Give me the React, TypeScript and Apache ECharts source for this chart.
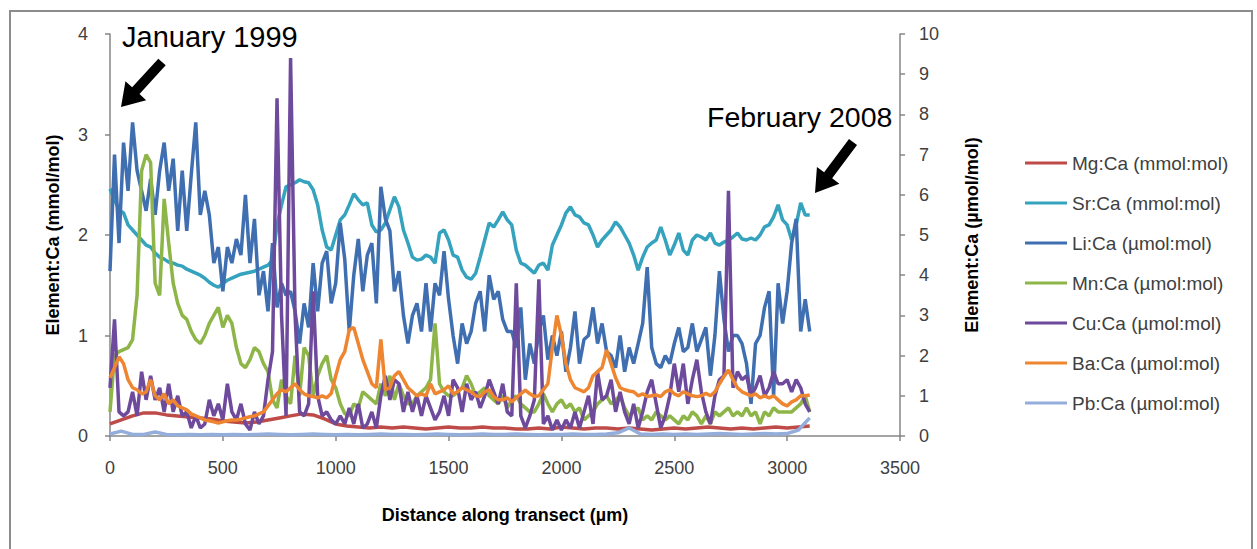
import React, { useEffect, useRef } from "react";
import * as echarts from "echarts";

const FONT = "'Liberation Sans', Arial, sans-serif";

// Distance sampling (µm)
const distFine = Array.from({ length: 156 }, (_, i) => i * 20); // 0..3100
const distCoarse = Array.from({ length: 63 }, (_, i) => i * 50); // 0..3100

const seriesNames = [
  "Mg:Ca (mmol:mol)",
  "Sr:Ca (mmol:mol)",
  "Li:Ca (µmol:mol)",
  "Mn:Ca (µmol:mol)",
  "Cu:Ca (µmol:mol)",
  "Ba:Ca (µmol:mol)",
  "Pb:Ca (µmol:mol)",
];

const xTicks = [0, 500, 1000, 1500, 2000, 2500, 3000, 3500];

// Mg:Ca (mmol/mol), left axis, every 50 µm
const mgCa = [
  0.12, 0.16, 0.2, 0.23, 0.23, 0.21, 0.2, 0.19, 0.18, 0.17,
  0.15, 0.14, 0.13, 0.14, 0.16, 0.18, 0.2, 0.22, 0.21, 0.17,
  0.12, 0.1, 0.09, 0.08, 0.09, 0.08, 0.09, 0.08, 0.07, 0.08,
  0.09, 0.08, 0.08, 0.09, 0.08, 0.08, 0.07, 0.07, 0.08, 0.07,
  0.09, 0.08, 0.07, 0.08, 0.08, 0.07, 0.08, 0.07, 0.06, 0.07,
  0.08, 0.07, 0.08, 0.09, 0.08, 0.07, 0.08, 0.07, 0.08, 0.09,
  0.08, 0.09, 0.1,
];

// Sr:Ca (mmol/mol), left axis, every 20 µm
const srCa = [
  2.46, 2.35, 2.25, 2.22, 2.1, 2.05, 2.0, 1.95, 1.9, 1.88,
  1.82, 1.78, 1.76, 1.73, 1.72, 1.7, 1.69, 1.66, 1.64, 1.62,
  1.6, 1.57, 1.53, 1.5, 1.48, 1.52, 1.55, 1.57, 1.59, 1.61,
  1.62, 1.63, 1.64, 1.66, 1.68, 1.7, 1.75, 2.1, 2.3, 2.48,
  2.5, 2.52, 2.55, 2.53, 2.52, 2.45, 2.3, 2.05, 1.88, 1.85,
  2.0, 2.15, 2.2, 2.3, 2.41, 2.35, 2.3, 2.32, 2.1, 2.03,
  2.05, 2.12, 2.25, 2.38, 2.28, 2.05, 1.92, 1.78, 1.75, 1.76,
  1.8, 1.78, 1.72, 2.02, 2.05, 1.95, 1.8, 1.78, 1.65, 1.58,
  1.56, 1.62, 1.78, 1.95, 2.12, 2.08, 2.15, 2.23, 2.15, 2.1,
  1.85, 1.72, 1.7, 1.66, 1.62, 1.7, 1.72, 1.65, 1.9, 2.0,
  2.1, 2.22, 2.28, 2.2, 2.18, 2.12, 2.1, 2.0, 1.88, 1.95,
  2.0, 2.05, 2.13, 2.08, 2.0, 1.92, 1.8, 1.65, 1.78, 1.88,
  1.92, 1.95, 2.08, 1.95, 1.8, 1.9, 2.02, 1.85, 1.8, 1.95,
  2.0, 1.98, 1.95, 2.02, 1.92, 1.9, 1.93, 1.95, 1.98, 2.02,
  1.96, 1.95, 1.97, 1.95, 2.0, 2.08, 2.1, 2.18, 2.3, 2.15,
  2.1, 1.95, 2.1, 2.32, 2.2, 2.2,
];

// Li:Ca (µmol/mol), right axis, every 20 µm
const liCa = [
  4.1, 7.0, 4.8, 7.3, 6.1, 7.8, 6.6, 6.1, 5.6, 6.4,
  5.5, 6.6, 7.3, 6.1, 6.9, 5.1, 6.6, 5.1, 6.5, 7.8,
  5.5, 6.1, 5.5, 4.3, 4.7, 3.6, 4.7, 4.3, 4.9, 4.5,
  6.0, 4.3, 5.4, 3.5, 4.1, 3.1, 4.8, 3.2, 3.8, 3.5,
  3.6, 3.1, 2.3, 3.3, 2.7, 4.3, 3.1, 4.3, 4.6, 3.3,
  3.8, 5.3, 4.4, 2.6, 4.0, 4.9, 3.6, 4.5, 4.8, 3.3,
  6.2, 5.4, 5.1, 3.6, 4.1, 3.0, 2.3, 3.0, 3.3, 2.6,
  3.8, 2.6, 3.8, 3.5, 4.6, 3.4, 2.5, 1.8, 2.8, 2.3,
  2.6, 3.3, 3.6, 2.6, 4.0, 3.4, 3.6, 2.9, 2.6, 2.6,
  2.2, 3.2, 1.4, 2.3, 1.8, 2.6, 3.0, 1.9, 2.5, 2.0,
  2.6, 1.6, 2.2, 3.1, 1.8, 2.4, 2.5, 3.2, 2.3, 2.8,
  2.1, 2.0, 1.7, 2.5, 1.6, 2.2, 1.8, 2.3, 2.8, 4.2,
  2.2, 1.8, 1.7, 2.0, 1.8, 2.3, 2.7, 2.1, 2.2, 2.8,
  2.1, 2.4, 2.7, 1.5, 2.5, 4.1, 2.9, 2.1, 2.5, 2.5,
  2.3, 1.8, 0.8, 2.3, 2.5, 3.2, 3.6, 1.0, 3.8, 2.8,
  3.6, 4.8, 5.4, 2.6, 3.4, 2.6,
];

// Mn:Ca (µmol/mol), right axis, every 20 µm
const mnCa = [
  0.6, 2.0, 2.1, 2.15, 2.2, 2.4, 3.5, 6.6, 7.0, 6.8,
  3.8, 3.5, 5.9, 4.8, 3.8, 3.3, 3.0, 2.9, 2.6, 2.4,
  2.3, 2.5, 2.8, 3.0, 3.2, 2.7, 3.0, 2.8, 2.2, 1.8,
  1.7, 1.9, 2.2, 2.1, 1.8, 1.6, 0.9, 0.7, 1.4, 1.0,
  0.8, 2.0, 1.0, 2.2, 2.0, 1.0, 1.5, 1.8, 2.0, 1.4,
  1.2, 0.8, 0.56, 0.5, 0.8, 0.7, 1.1, 1.0, 0.9, 0.8,
  1.3, 1.0, 1.5, 0.9, 1.3, 1.0, 0.8, 0.8, 1.0, 1.1,
  1.2, 1.4, 2.8, 1.3, 1.1, 1.0, 1.0, 1.1, 1.2, 1.5,
  1.3, 1.0, 1.1, 1.2, 1.0, 0.9, 0.8, 1.0, 0.7, 0.9,
  1.0, 0.8, 0.7, 0.6, 0.6, 0.8, 1.05, 0.8, 0.6, 0.8,
  0.9, 0.7, 0.8, 0.6, 0.7, 0.4, 0.5, 0.6, 0.8, 0.9,
  1.0, 0.8, 0.9, 1.0, 0.7, 0.5, 0.6, 0.7, 0.4, 0.5,
  0.4, 0.6, 0.5, 0.4, 0.5, 0.4, 0.3, 0.5, 0.4, 0.6,
  0.5, 0.3, 0.5, 0.3, 0.6, 0.5, 0.6, 0.7, 0.5, 0.6,
  0.5, 0.7, 0.5, 0.6, 0.3, 0.6, 0.5, 0.7, 0.6, 0.6,
  0.6, 0.6, 0.7, 0.8, 1.0, 0.6,
];

// Cu:Ca (µmol/mol), right axis, every 20 µm
const cuCa = [
  1.2, 2.9, 0.6, 0.5, 0.6, 1.1, 0.5, 1.6, 0.9, 1.5,
  0.9, 1.2, 0.6, 1.3, 0.6, 1.0, 0.5, 0.6, 0.2, 0.5,
  0.2, 0.3, 0.9, 0.5, 0.8, 0.4, 1.3, 0.6, 0.4, 0.8,
  0.3, 0.15, 0.6, 0.3, 0.5, 1.4, 2.1, 8.4, 3.0, 0.5,
  9.4, 3.0, 0.6, 0.5, 0.8, 3.6, 1.0, 0.5, 0.6, 0.4,
  0.3, 0.5, 0.3, 0.7, 0.3, 0.8, 0.2, 0.3, 0.6, 0.2,
  1.0, 1.5, 0.9, 1.4, 1.3, 0.6, 1.1, 0.6, 1.0, 0.5,
  1.0, 0.7, 0.4, 0.6, 1.0, 0.5, 1.4, 1.2, 0.6, 1.3,
  0.9, 1.1, 0.7, 1.0, 1.4, 1.1, 0.8, 1.3, 0.6, 0.5,
  3.8, 0.5, 0.2, 0.5, 0.9, 3.9, 0.3, 0.5, 0.15, 0.4,
  0.15, 0.4, 0.2, 0.6, 0.2, 0.6, 1.0, 0.3, 1.6, 0.9,
  1.0, 1.4, 0.6, 1.1, 0.6, 0.3, 0.8, 0.2, 0.6, 1.1,
  1.4, 0.8, 0.2, 0.5, 1.0, 1.8, 1.1, 1.8, 0.8, 1.4,
  1.9, 1.1, 0.6, 0.3, 1.0, 1.4, 1.5, 6.1, 1.2, 1.6,
  1.4, 1.5, 1.0, 1.2, 1.5, 1.0, 1.2, 1.6, 1.3, 1.3,
  1.4, 1.1, 1.4, 1.2, 0.8, 0.6,
];

// Ba:Ca (µmol/mol), right axis, every 20 µm
const baCa = [
  1.45, 1.7, 1.97, 1.8, 1.4, 1.2, 1.15, 1.05, 1.1, 1.4,
  1.0, 0.9, 1.05, 0.8, 0.9, 0.75, 0.7, 0.65, 0.55, 0.5,
  0.45, 0.4, 0.38, 0.35, 0.32, 0.35, 0.38, 0.4, 0.4, 0.42,
  0.45, 0.48, 0.5, 0.55, 0.6, 0.75, 0.9, 1.05, 1.15, 1.1,
  1.2, 1.3, 1.15, 1.05, 1.0, 0.98, 0.95, 1.0, 0.95, 1.06,
  1.5, 1.9, 2.1, 2.64, 2.7, 2.3, 1.9, 1.6, 1.3, 1.2,
  2.4, 1.15, 1.2, 1.5, 1.6, 1.4, 1.2, 1.1, 1.0, 1.05,
  1.0, 1.3, 1.05, 1.1, 1.15, 1.25, 1.05, 1.1, 1.2, 1.15,
  1.1, 1.0, 0.98, 1.1, 1.15, 0.98, 0.9, 0.9, 0.95, 0.85,
  0.95, 1.05, 1.14, 1.05, 0.98, 1.0, 1.15, 1.3, 2.2, 3.0,
  2.5, 1.8, 1.4, 1.2, 1.15, 1.1, 1.2, 1.5, 1.6, 1.7,
  2.14, 1.8, 1.45, 1.2, 1.15, 1.12, 1.1, 1.0, 1.05, 0.98,
  1.0, 1.02, 0.98, 1.1, 1.15, 1.05, 1.0, 1.1, 1.05, 1.0,
  0.98, 1.0, 1.06, 1.0, 1.1, 1.3, 1.48, 1.64, 1.4, 1.2,
  1.1, 1.05, 1.0, 1.05, 0.95, 1.0, 0.95, 1.0, 0.9, 0.8,
  0.75, 0.85, 0.9, 1.0, 1.0, 1.02,
];

// Pb:Ca (µmol/mol), right axis, every 50 µm
const pbCa = [
  0.05, 0.12, 0.04, 0.04, 0.1, 0.04, 0.03, 0.04, 0.03, 0.04,
  0.03, 0.04, 0.03, 0.04, 0.05, 0.04, 0.03, 0.04, 0.05, 0.04,
  0.03, 0.04, 0.03, 0.04, 0.05, 0.04, 0.04, 0.03, 0.04, 0.05,
  0.04, 0.03, 0.04, 0.05, 0.04, 0.04, 0.05, 0.04, 0.03, 0.04,
  0.04, 0.05, 0.04, 0.04, 0.05, 0.08, 0.2, 0.05, 0.04, 0.05,
  0.04, 0.05, 0.04, 0.05, 0.06, 0.05, 0.04, 0.05, 0.06, 0.05,
  0.06, 0.15, 0.45,
];

const colors = ["#BE4B48", "#35A3BD", "#3F6FB0", "#8DB548", "#6E4A9C", "#EE8631", "#93AEDB"];

const pair = (xs: number[], ys: number[]) => xs.map((x, i) => [x, ys[i]]);

export default function App() {
  const ref = useRef<HTMLDivElement>(null);
  useEffect(() => {
    if (!ref.current) return;
    const chart = echarts.init(ref.current, undefined, { renderer: "svg" });
    const dataSets = [
      { d: pair(distCoarse, mgCa), axis: 0 },
      { d: pair(distFine, srCa), axis: 0 },
      { d: pair(distFine, liCa), axis: 1 },
      { d: pair(distFine, mnCa), axis: 1 },
      { d: pair(distFine, cuCa), axis: 1 },
      { d: pair(distFine, baCa), axis: 1 },
      { d: pair(distCoarse, pbCa), axis: 1 },
    ];
    const axisLineStyle = { color: "#868686", width: 1.5 };
    const arrow = (tail: number[], tip: number[]) => {
      const dx = tip[0] - tail[0];
      const dy = tip[1] - tail[1];
      const len = Math.hypot(dx, dy);
      const ux = dx / len, uy = dy / len;
      const nx = -uy, ny = ux;
      const hl = 22, sw = 5, hw = 14;
      const neck = [tip[0] - ux * hl, tip[1] - uy * hl];
      return {
        type: "polygon",
        silent: true,
        shape: {
          points: [
            [tail[0] + nx * sw, tail[1] + ny * sw],
            [neck[0] + nx * sw, neck[1] + ny * sw],
            [neck[0] + nx * hw, neck[1] + ny * hw],
            tip,
            [neck[0] - nx * hw, neck[1] - ny * hw],
            [neck[0] - nx * sw, neck[1] - ny * sw],
            [tail[0] - nx * sw, tail[1] - ny * sw],
          ],
        },
        style: { fill: "#000" },
        z: 100,
      };
    };
    const tickLabel = { fontSize: 18, color: "#404040", fontFamily: FONT };
    const titleStyle = { fontWeight: "bold", fontSize: 18, color: "#000", fontFamily: FONT };
    chart.setOption({
      animation: false,
      backgroundColor: "#fff",
      color: colors,
      textStyle: { fontFamily: FONT },
      grid: { left: 110, right: 357, top: 34, bottom: 113 },
      legend: {
        orient: "vertical",
        left: 1020,
        top: 147,
        itemWidth: 42,
        itemHeight: 3,
        itemGap: 18,
        icon: "rect",
        data: seriesNames,
        selectedMode: false,
        textStyle: { fontSize: 19, color: "#404040", lineHeight: 22, fontFamily: FONT },
      },
      xAxis: {
        type: "value",
        min: xTicks[0],
        max: xTicks[xTicks.length - 1],
        interval: 500,
        axisLine: { show: true, lineStyle: axisLineStyle },
        axisTick: { show: true, inside: false, length: 5, lineStyle: axisLineStyle },
        axisLabel: { ...tickLabel, margin: 23, formatter: (v: number) => String(v) },
        splitLine: { show: false },
        name: "Distance along transect (µm)",
        nameLocation: "middle",
        nameGap: 70,
        nameTextStyle: titleStyle,
      },
      yAxis: [
        {
          type: "value",
          position: "left",
          min: 0,
          max: 4,
          interval: 1,
          axisLine: { show: true, lineStyle: axisLineStyle },
          axisTick: { show: true, inside: false, length: 5, lineStyle: axisLineStyle },
          axisLabel: { ...tickLabel, margin: 22 },
          splitLine: { show: false },
          name: "Element:Ca (mmol/mol)",
          nameLocation: "middle",
          nameRotate: 90,
          nameGap: 48,
          nameTextStyle: titleStyle,
        },
        {
          type: "value",
          position: "right",
          min: 0,
          max: 10,
          interval: 1,
          axisLine: { show: true, lineStyle: axisLineStyle },
          axisTick: { show: true, inside: false, length: 5, lineStyle: axisLineStyle },
          axisLabel: { ...tickLabel, margin: 19 },
          splitLine: { show: false },
          name: "Element:Ca (µmol/mol)",
          nameLocation: "middle",
          nameRotate: 90,
          nameGap: 63,
          nameTextStyle: titleStyle,
        },
      ],
      series: dataSets.map((s, i) => ({
        name: seriesNames[i],
        type: "line",
        yAxisIndex: s.axis,
        data: s.d,
        showSymbol: false,
        symbol: "none",
        lineStyle: { width: 3.5, color: colors[i] },
        itemStyle: { color: colors[i] },
        z: 2 + i,
      })),
      graphic: [
        {
          type: "rect",
          silent: true,
          shape: { x: 10, y: 11, width: 1242, height: 600 },
          style: { fill: "none", stroke: "#8c8c8c", lineWidth: 2 },
          z: -10,
        },
        {
          type: "text",
          x: 122,
          y: 37,
          silent: true,
          style: { text: "January 1999", fontSize: 29, fontFamily: FONT, fill: "#000", align: "left", verticalAlign: "middle" },
          z: 100,
        },
        {
          type: "text",
          x: 707,
          y: 117,
          silent: true,
          style: { text: "February 2008", fontSize: 28.5, fontFamily: FONT, fill: "#000", align: "left", verticalAlign: "middle" },
          z: 100,
        },
        arrow([162, 62], [121, 107]),
        arrow([853, 142], [815, 193]),
      ],
    });
    return () => chart.dispose();
  }, []);
  return (
    <div
      ref={ref}
      style={{ position: "fixed", left: 0, top: 0, width: 1257, height: 549, background: "#fff" }}
    />
  );
}
